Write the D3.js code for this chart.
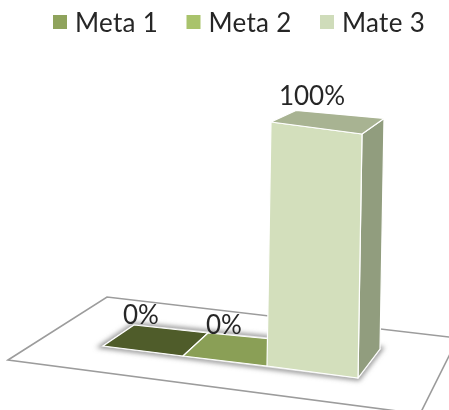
<!DOCTYPE html>
<html><head><meta charset="utf-8">
<script src="https://cdn.jsdelivr.net/npm/d3@7/dist/d3.min.js"></script>
<style>html,body{margin:0;padding:0;background:#fff}svg{display:block}text{font-family:Lato,"Open Sans",sans-serif;fill:#262626}</style>
</head><body><svg id="c" width="449" height="410"></svg>
<script>
const categories = ["Meta 1", "Meta 2", "Mate 3"];
const values = [0, 0, 100];
const labels = ["0%", "0%", "100%"];
const frontColors = ["#4f5b2b", "#8a9f57", "#d3dfbc"];
const sideColors = ["#3d4722", "#6f8045", "#919d7e"];
const topColors = ["#4f5b2b", "#8a9f57", "#a8b392"];
const legendColors = ["#8fa35c", "#a9c36c", "#cfdcba"];

const W = 449, H = 410;
const svg = d3.select("#c");
const defs = svg.append("defs");
defs.append("filter").attr("id","soft").append("feGaussianBlur").attr("stdDeviation",0.6);
defs.append("filter").attr("id","shadow").attr("x","-10%").attr("y","-30%").attr("width","120%").attr("height","160%")
  .append("feGaussianBlur").attr("stdDeviation",2.5);

// oblique projection with perspective: u along categories, d into depth, v value
const n = categories.length;
const slots = [0,1,2,3];
const xF = d3.scaleLinear().domain(slots).range([103,183,267,358]);
const yF = d3.scaleLinear().domain(slots).range([346,356,366,378]);
const xB = d3.scaleLinear().domain(slots).range([134,208,292,380]);
const yB = d3.scaleLinear().domain(slots).range([325,333,341,349]);
const rise = d3.scaleLinear().domain([0,100]).range([0,244]);
const lean = d3.scaleLinear().domain([0,100]).range([0,4]);
const P = (u,d,v=0) => {
  const x = xF(u)+(xB(u)-xF(u))*d, y = yF(u)+(yB(u)-yF(u))*d;
  return [x+lean(v), y-rise(v)*(1-0.055*d)];
};
const line = d3.line();
const poly = pts => line(pts)+"Z";

// floor plate
const floor = [[8,360],[107,297],[458,338],[420,414]];
svg.append("g").attr("filter","url(#soft)").append("path").attr("d",poly(floor))
  .attr("fill","#fff").attr("stroke","#9c9c9c").attr("stroke-width",1.6);

// shadow under the bars
svg.append("path").attr("d",poly([P(0,0),P(0,1),P(n,1),P(n,0)]))
  .attr("fill","none").attr("stroke","#8d8d8d").attr("stroke-width",5).attr("filter","url(#shadow)");
svg.append("path").attr("d",poly([P(0,0),P(0,1),P(n,1),P(n,0)]))
  .attr("fill","#fff").attr("stroke","#e4e4e4").attr("stroke-width",1.5).attr("filter","url(#soft)");

const bars = svg.append("g").attr("filter","url(#soft)");
values.forEach((v,i)=>{
  const g = bars.append("g").attr("stroke","#fff").attr("stroke-width",1.2).attr("stroke-linejoin","round");
  if (v>0) {
    g.append("path").attr("d",poly([P(i+1,0,0),P(i+1,1,0),P(i+1,1,v),P(i+1,0,v)])).attr("fill",sideColors[i]);
    g.append("path").attr("d",poly([P(i,0,0),P(i+1,0,0),P(i+1,0,v),P(i,0,v)])).attr("fill",frontColors[i]);
  }
  g.append("path").attr("d",poly([P(i,0,v),P(i+1,0,v),P(i+1,1,v),P(i,1,v)])).attr("fill",topColors[i]);
});

// data labels
const labelDx = [-30,-26,-28], labelDy = [-5,-3,-9];
const lab = svg.append("g").attr("filter","url(#soft)");
values.forEach((v,i)=>{
  const p = P(i+0.5,1,v);
  lab.append("text").attr("x",p[0]+labelDx[i]).attr("y",p[1]+labelDy[i])
    .attr("text-anchor","middle").attr("font-size",26).text(labels[i]);
});

// legend
const lx = d3.scalePoint().domain(categories).range([53,320]);
const leg = svg.append("g").attr("filter","url(#soft)");
categories.forEach((c,i)=>{
  leg.append("rect").attr("x",lx(c)).attr("y",15).attr("width",14).attr("height",14).attr("fill",legendColors[i]);
  leg.append("text").attr("x",lx(c)+22).attr("y",32).attr("font-size",26).attr("letter-spacing",0.3).text(c);
});
</script></body></html>
